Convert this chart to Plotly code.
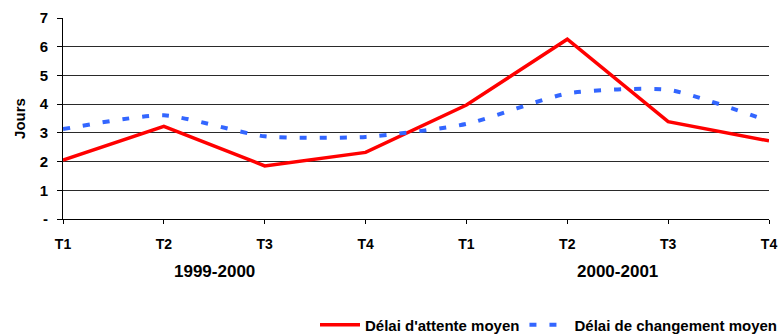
import plotly.graph_objects as go

# Quarterly data over two fiscal years
quarters = ["T1", "T2", "T3", "T4", "T1", "T2", "T3", "T4"]
years = ["1999-2000", "2000-2001"]
delai_attente = [2.05, 3.23, 1.85, 2.32, 3.97, 6.26, 3.39, 2.72]
delai_changement = [3.13, 3.61, 2.88, 2.86, 3.31, 4.37, 4.50, 3.40]
y_ticks = [0, 1, 2, 3, 4, 5, 6, 7]
y_ticktext = ["-", "1", "2", "3", "4", "5", "6", "7"]

x_pos = list(range(len(quarters)))
font_family = "Liberation Sans, Arial, sans-serif"

fig = go.Figure()
fig.add_trace(go.Scatter(
    x=x_pos, y=delai_attente, mode="lines",
    name="Délai d'attente moyen",
    line=dict(color="#FF0000", width=3.5),
))
fig.add_trace(go.Scatter(
    x=x_pos, y=delai_changement, mode="lines",
    name="Délai de changement moyen",
    line=dict(color="#3366FF", width=4, dash="7px,13px", shape="spline", smoothing=0.6),
))

# Fiscal-year labels centred under each group of four quarters
for i, yr in enumerate(years):
    fig.add_annotation(
        x=i * 4 + 1.5, xref="x", y=-0.26, yref="paper",
        text=f"<b>{yr}</b>", showarrow=False, yanchor="middle",
        font=dict(family=font_family, size=17, color="#000000"),
    )

fig.update_layout(
    width=783, height=335,
    margin=dict(l=63, r=14, t=18, b=116, autoexpand=False),
    paper_bgcolor="white", plot_bgcolor="white",
    font=dict(family=font_family, color="#000000"),
    showlegend=True,
    legend=dict(
        orientation="h", x=1.0, xanchor="right", xref="container",
        y=0.03, yanchor="middle", yref="container",
        font=dict(family=font_family, size=15, weight="bold"),
        bgcolor="rgba(0,0,0,0)", itemwidth=40, tracegroupgap=0,
    ),
    xaxis=dict(
        range=[0, 7], tickvals=x_pos, ticktext=quarters,
        showgrid=False, zeroline=False,
        showline=True, linecolor="#000000", linewidth=1,
        ticks="outside", ticklen=4, tickcolor="#000000",
        tickfont=dict(family=font_family, size=14, weight="bold"),
        ticklabelstandoff=8,
    ),
    yaxis=dict(
        range=[0, 7], tickvals=y_ticks, ticktext=y_ticktext,
        showgrid=True, gridcolor="#2a2a2a", gridwidth=1,
        zeroline=False,
        showline=True, linecolor="#000000", linewidth=1,
        ticks="outside", ticklen=5, tickcolor="#000000",
        tickfont=dict(family=font_family, size=15, weight="bold"),
        ticklabelstandoff=6,
        title=dict(text="<b>Jours</b>", font=dict(family=font_family, size=15), standoff=10),
    ),
)

fig.write_html("out.html")
